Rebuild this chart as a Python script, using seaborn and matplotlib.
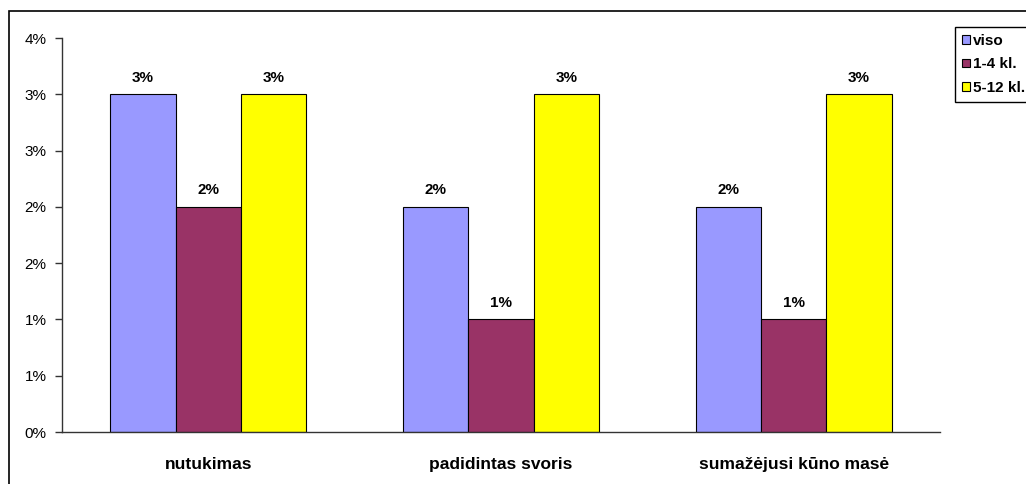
import matplotlib
matplotlib.use("Agg")
import matplotlib.pyplot as plt
from matplotlib.patches import Rectangle
from matplotlib.ticker import FuncFormatter, MultipleLocator
import seaborn as sns
import pandas as pd

categories = ["nutukimas", "padidintas svoris", "sumažėjusi kūno masė"]
groups = ["viso", "1-4 kl.", "5-12 kl."]
viso = [3, 2, 2]
kl_1_4 = [2, 1, 1]
kl_5_12 = [3, 3, 3]
colors = ["#9999FF", "#993366", "#FFFF00"]

df = pd.DataFrame({
    "kategorija": categories * 3,
    "grupe": [g for g in groups for _ in categories],
    "reiksme": viso + kl_1_4 + kl_5_12,
})

sns.set_style("white")
plt.rcParams["font.family"] = ["Liberation Sans", "DejaVu Sans"]
plt.rcParams["text.color"] = "black"
plt.rcParams["xtick.color"] = "black"
plt.rcParams["ytick.color"] = "black"
plt.rcParams["axes.labelcolor"] = "black"

fig = plt.figure(figsize=(10.26, 4.84), dpi=100)
ax = fig.add_axes([62 / 1026, 1 - 432 / 484, (940 - 62) / 1026, (432 - 38) / 484])

sns.barplot(data=df, x="kategorija", y="reiksme", hue="grupe", order=categories,
            hue_order=groups, palette=colors, width=0.67, saturation=1,
            edgecolor="black", linewidth=0.8, ax=ax, legend=True)

for cont in ax.containers:
    ax.bar_label(cont, fmt="%d%%", padding=7, fontsize=11, fontweight="bold")

ax.set_ylim(0, 3.5)
ax.set_xlim(-0.5, 2.5)
ax.yaxis.set_major_locator(MultipleLocator(0.5))
ax.yaxis.set_major_formatter(FuncFormatter(lambda v, p: "%d%%" % int(v + 0.5 + 1e-9)))
ax.set_xlabel("")
ax.set_ylabel("")
ax.set_xticks([0, 1, 2])
ax.set_xticklabels(categories, fontsize=12.5, fontweight="bold")
ax.set_xticks([-0.5, 0.5, 1.5, 2.5], minor=True)
ax.tick_params(axis="x", which="major", length=0, pad=18)
ax.tick_params(axis="x", which="minor", length=5, direction="out", color="#333333", width=1)
ax.tick_params(axis="y", length=5, direction="out", color="#333333", width=1, labelsize=11, pad=6)
ax.tick_params(axis="y", which="major", left=True)
for s in ["top", "right"]:
    ax.spines[s].set_visible(False)
for s in ["left", "bottom"]:
    ax.spines[s].set_color("#333333")
    ax.spines[s].set_linewidth(1)

handles, labels = ax.get_legend_handles_labels()
ax.legend_.remove()
leg = fig.legend(handles, labels, loc="upper left", bbox_to_anchor=(955 / 1026, 1 - 27 / 484),
                 frameon=True, fancybox=False, edgecolor="black", framealpha=1,
                 prop={"weight": "bold", "size": 11}, handlelength=0.5, handleheight=0.5,
                 handletextpad=0.25, labelspacing=0.62, borderpad=0.45, borderaxespad=0)
leg.get_frame().set_linewidth(1)

fig.patches.append(Rectangle((9 / 1026, -0.1), 1.2, 1.1 - 11 / 484, transform=fig.transFigure,
                             fill=False, edgecolor="black", linewidth=1.2))

fig.savefig("out.png", dpi=100)
